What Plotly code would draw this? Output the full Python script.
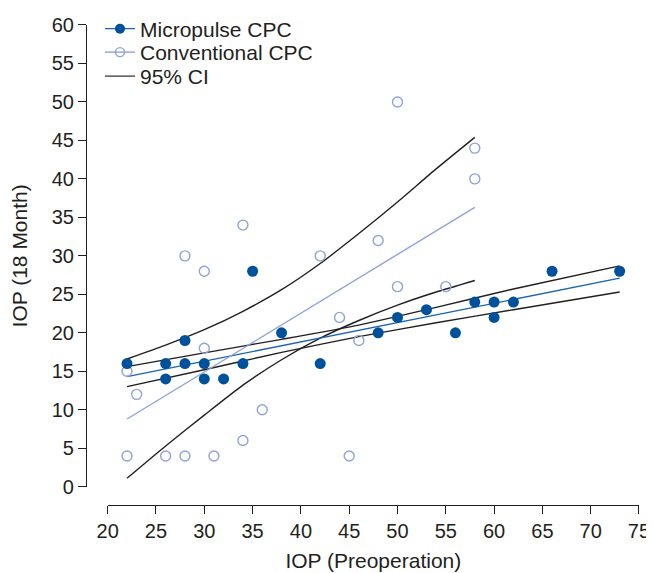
import plotly.graph_objects as go

# --- data ---
mp_x = [22, 26, 26, 28, 28, 30, 30, 32, 34, 35, 38, 42, 48, 50, 53, 56, 58, 60, 60, 62, 66, 73]
mp_y = [16, 16, 14, 19, 16, 16, 14, 14, 16, 28, 20, 16, 20, 22, 23, 20, 24, 24, 22, 24, 28, 28]

cv_x = [22, 22, 23, 26, 28, 28, 30, 30, 31, 34, 34, 36, 42, 44, 45, 46, 48, 50, 50, 55, 58, 58]
cv_y = [15, 4, 12, 4, 4, 30, 28, 18, 4, 34, 6, 10, 30, 22, 4, 19, 32, 50, 26, 26, 44, 40]

# regression lines (end points)
mp_fit_x = [22, 73]
mp_fit_y = [14.3, 27.1]
cv_fit_x = [22, 58]
cv_fit_y = [8.8, 36.3]

# 95% CI curves
mp_ci_x = [22, 30, 38, 46, 54, 62, 73]
mp_ci_upper = [15.6, 17.4, 19.15, 21.0, 23.3, 25.7, 28.7]
mp_ci_lower = [13.0, 15.2, 17.45, 19.5, 21.3, 23.0, 25.3]

cv_ci_x = [22, 26, 30, 34, 38, 42, 46, 50, 54, 58]
cv_ci_upper = [16.6, 18.4, 20.4, 22.8, 25.6, 29.0, 32.9, 37.0, 41.3, 45.4]
cv_ci_lower = [1.1, 5.3, 9.3, 13.2, 16.5, 19.3, 21.6, 23.6, 25.3, 26.8]

x_ticks = list(range(20, 80, 5))
y_ticks = list(range(0, 65, 5))

DARK = "#00519c"
MIDBLUE = "#1a64b0"
LIGHT = "#8fa3d6"
INK = "#231f20"
FONT = "Liberation Sans, Arial, Helvetica, sans-serif"

fig = go.Figure()

# CI curves
ci_sets = [(mp_ci_x, mp_ci_upper), (mp_ci_x, mp_ci_lower),
           (cv_ci_x, cv_ci_upper), (cv_ci_x, cv_ci_lower)]
for cx, cy in ci_sets:
    fig.add_trace(go.Scatter(x=cx, y=cy, mode="lines",
                             line=dict(color=INK, width=1.4, shape="spline", smoothing=0.6),
                             showlegend=False, hoverinfo="skip"))

# fit lines
fig.add_trace(go.Scatter(x=mp_fit_x, y=mp_fit_y, mode="lines", line=dict(color=MIDBLUE, width=1.4),
                         showlegend=False))
fig.add_trace(go.Scatter(x=cv_fit_x, y=cv_fit_y, mode="lines", line=dict(color=LIGHT, width=1.4),
                         showlegend=False))

# points
fig.add_trace(go.Scatter(x=cv_x, y=cv_y, mode="markers",
                         marker=dict(symbol="circle-open", size=10, color=LIGHT, line=dict(width=1.4, color=LIGHT)),
                         showlegend=False))
fig.add_trace(go.Scatter(x=mp_x, y=mp_y, mode="markers",
                         marker=dict(symbol="circle", size=11, color=DARK),
                         showlegend=False))

# legend entries (each in its own legend box so rows can be spaced like the reference)
fig.add_trace(go.Scatter(x=[None], y=[None], mode="lines+markers", name="Micropulse CPC", legend="legend",
                         line=dict(color=MIDBLUE, width=1.4), marker=dict(symbol="circle", size=10, color=DARK)))
fig.add_trace(go.Scatter(x=[None], y=[None], mode="lines+markers", name="Conventional CPC", legend="legend2",
                         line=dict(color=LIGHT, width=1.4),
                         marker=dict(symbol="circle-open", size=9, color=LIGHT, line=dict(width=1.4, color=LIGHT))))
fig.add_trace(go.Scatter(x=[None], y=[None], mode="lines", name="95% CI", legend="legend3",
                         line=dict(color="#555555", width=1.5)))

axis_common = dict(
    showline=True, linecolor=INK, linewidth=1.2,
    ticks="outside", ticklen=8, tickwidth=1.2, tickcolor=INK,
    showgrid=False, zeroline=False,
    tickfont=dict(family=FONT, size=20, color=INK),
    anchor="free", position=0, automargin=False,
)

leg_common = dict(xanchor="left", yanchor="middle", bgcolor="rgba(0,0,0,0)",
                  font=dict(family=FONT, size=21, color=INK))
LEG_X = 0.0253

fig.update_layout(
    width=646, height=565,
    margin=dict(l=78, r=15, t=0, b=68),
    paper_bgcolor="white", plot_bgcolor="white",
    font=dict(family=FONT, color=INK),
    xaxis=dict(domain=[0.0392, 1], range=[20, 75], tickvals=x_ticks,
               title=dict(text="IOP (Preoperation)", font=dict(family=FONT, size=21, color=INK), standoff=12),
               **axis_common),
    yaxis=dict(domain=[0.0368, 0.9658], range=[0, 60], tickvals=y_ticks,
               title=dict(text="IOP (18 Month)", font=dict(family=FONT, size=21, color=INK), standoff=18),
               **axis_common),
    legend=dict(x=LEG_X, y=0.9577, **leg_common),
    legend2=dict(x=LEG_X, y=0.9105, **leg_common),
    legend3=dict(x=LEG_X, y=0.8622, **leg_common),
    showlegend=True,
)

fig.write_html("out.html")
